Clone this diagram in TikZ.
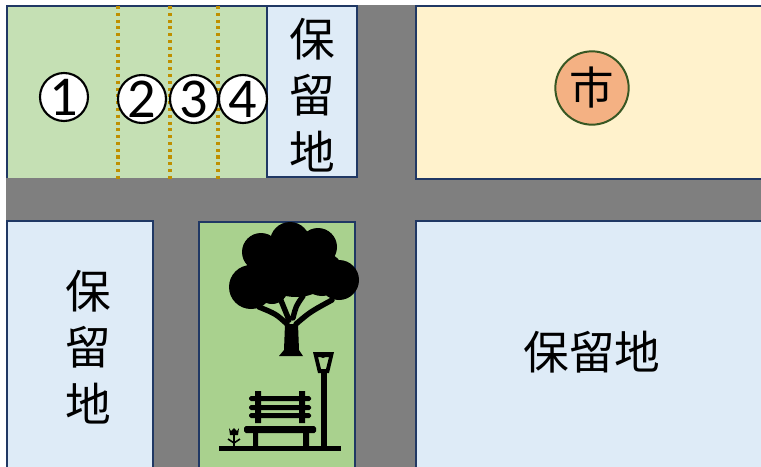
\documentclass[tikz,border=0pt]{standalone}
\usepackage{fontspec}
\newfontfamily\jpfont{Noto Sans CJK JP}
\newfontfamily\numfont{Carlito}

\definecolor{road}{HTML}{7F7F7F}
\definecolor{lotedge}{HTML}{203864}
\definecolor{plotgreen}{HTML}{C5E0B4}
\definecolor{reserveblue}{HTML}{DEEBF7}
\definecolor{cityyellow}{HTML}{FFF2CC}
\definecolor{parkgreen}{HTML}{A9D18E}
\definecolor{markorange}{HTML}{F4B183}
\definecolor{markgreen}{HTML}{385723}
\definecolor{splitline}{HTML}{BF9000}

\tikzset{
  lot/.style={draw=lotedge, line width=1.6pt},
  reserve/.style={lot, fill=reserveblue},
  jptext/.style={font=\jpfont\fontsize{39}{48}\selectfont, align=center, inner sep=0pt},
  lotnum/.style={circle, draw=black, fill=white, line width=1.8pt, minimum size=1.44cm,
    inner sep=0pt, font=\numfont\fontsize{48}{48}\selectfont},
  splitdots/.style={draw=splitline, line width=2.6pt, dash pattern=on 2.6pt off 3.2pt}
}

\begin{document}
\begin{tikzpicture}[x=0.03cm, y=-0.03cm]
\useasboundingbox (0,0) rectangle (761,466);

% roads
\fill[road] (6,5) rectangle (770,470);

% top row
\fill[plotgreen] (7,6) rectangle (267,178);
\draw[lot] (7,178) -- (7,6) -- (267,6);
\foreach \x in {118,170,218}
  \draw[splitdots] (\x,6) -- (\x,182);
\draw[reserve] (267,6) rectangle (357,177);
\draw[lot, fill=cityyellow] (416,6) rectangle (770,179);

% bottom row
\draw[reserve] (7,221) rectangle (153,475);
\draw[lot, fill=parkgreen] (199,222) rectangle (355,475);
\draw[reserve] (416,221) rectangle (770,475);

% texts
\node[jptext] (res-top) at (312,95) {保\\留\\地};
\node[jptext] (res-left) at (88,347) {保\\留\\地};
\node[jptext] (res-right) at (592,352) {保留地};
\node[circle, draw=markgreen, fill=markorange, line width=1.7pt, minimum size=2.2cm,
  inner sep=0pt, font=\jpfont\fontsize{38}{38}\selectfont] (city) at (592,88) {市};

\node[lotnum] (lot1) at (64,97) {1};
\node[lotnum] (lot2) at (142,99) {2};
\node[lotnum] (lot3) at (194,99) {3};
\node[lotnum] (lot4) at (243,99) {4};

% park: tree
\fill[black] (290,242) circle[radius=20] (261,252) circle[radius=19]
  (318,247) circle[radius=19] (339,280) circle[radius=20]
  (251,287) circle[radius=22] (296,268) ellipse[x radius=38, y radius=29]
  (322,274) circle[radius=22] (272,288) circle[radius=16];
\fill[black] (279,356) -- (284,350) -- (285,324) -- (298,324) -- (299,350) -- (303,356) -- cycle;
\draw[black, line width=4.6pt, line cap=round]
  (287,324) .. controls (276,314) .. (259,307)
  (289,320) -- (280,298)
  (293,318) .. controls (296,306) .. (303,296)
  (296,324) .. controls (310,312) .. (332,300);

% park: lamp
\fill[black] (321,372) rectangle (327,447);
\fill[black, even odd rule] (313,352) -- (334,352) -- (329,373) -- (318,373) -- cycle
  (318,357) -- (329,357) -- (326,369) -- (321,369) -- cycle;
\fill[black] (318,353) arc[start angle=180, end angle=0, x radius=5, y radius=5] -- cycle;

% park: bench
\fill[black, rounded corners=1.5pt] (249,396) rectangle (311,401)
  (249,405) rectangle (311,410) (249,413) rectangle (311,418);
\fill[black] (255,391) rectangle (261,423) (299,391) rectangle (305,423);
\fill[black, rounded corners=1.5pt] (244,426) rectangle (316,433);
\fill[black] (253,433) rectangle (258,447) (303,433) rectangle (309,447);
\fill[black] (219,446) rectangle (341,451);

% park: flower
\fill[black] (233,435) rectangle (235,447);
\fill[black] (229,428) -- (231,431) -- (234,428) -- (237,431) -- (239,428) -- (238,435) -- (230,435) -- cycle;
\draw[black, line width=1.4pt] (228,439) -- (234,443) -- (240,439);
\end{tikzpicture}
\end{document}
